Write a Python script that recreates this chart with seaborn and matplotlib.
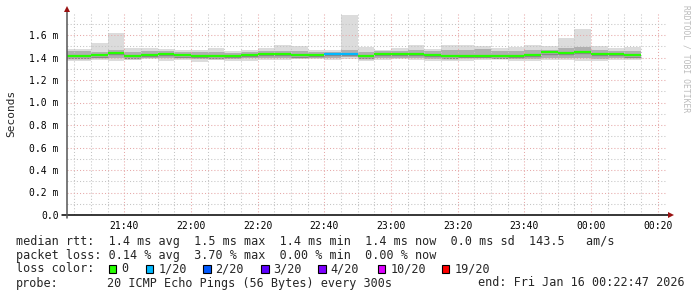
import matplotlib
matplotlib.use("Agg")
import matplotlib.pyplot as plt
import seaborn as sns
import pandas as pd
from matplotlib.patches import Rectangle

# ---------------- data ----------------
bin_start = ["21:20", "21:25", "21:30", "21:35", "21:40", "21:45", "21:50", "21:55",
             "22:00", "22:05", "22:10", "22:15", "22:20", "22:25", "22:30", "22:35",
             "22:40", "22:45", "22:50", "22:55", "23:00", "23:05", "23:10", "23:15",
             "23:20", "23:25", "23:30", "23:35", "23:40", "23:45", "23:50", "23:55",
             "00:00", "00:05", "00:10"]
# milliseconds
rtt_median = [1.41, 1.41, 1.42, 1.44, 1.41, 1.425, 1.43, 1.42, 1.415, 1.41, 1.415, 1.425,
              1.43, 1.43, 1.42, 1.425, 1.43, 1.43, 1.41, 1.43, 1.43, 1.435, 1.425, 1.41,
              1.415, 1.415, 1.41, 1.415, 1.425, 1.445, 1.44, 1.45, 1.435, 1.435, 1.42]
rtt_max = [1.48, 1.48, 1.53, 1.62, 1.48, 1.485, 1.48, 1.47, 1.465, 1.485, 1.455, 1.465,
           1.48, 1.51, 1.50, 1.465, 1.465, 1.78, 1.495, 1.47, 1.485, 1.51, 1.48, 1.51,
           1.51, 1.50, 1.485, 1.49, 1.51, 1.50, 1.575, 1.65, 1.50, 1.485, 1.49]
rtt_min = [1.37, 1.37, 1.38, 1.37, 1.38, 1.385, 1.37, 1.38, 1.36, 1.38, 1.37, 1.37,
           1.38, 1.38, 1.385, 1.385, 1.38, 1.39, 1.365, 1.375, 1.385, 1.38, 1.365, 1.37,
           1.37, 1.375, 1.385, 1.365, 1.37, 1.38, 1.38, 1.37, 1.37, 1.375, 1.38]
rtt_hi = [1.455, 1.455, 1.45, 1.47, 1.45, 1.455, 1.455, 1.45, 1.445, 1.445, 1.44, 1.445,
          1.455, 1.46, 1.455, 1.45, 1.45, 1.465, 1.45, 1.46, 1.455, 1.47, 1.455, 1.465,
          1.465, 1.475, 1.455, 1.455, 1.465, 1.47, 1.48, 1.49, 1.465, 1.46, 1.455]
rtt_lo = [1.39, 1.39, 1.40, 1.40, 1.395, 1.40, 1.395, 1.40, 1.39, 1.395, 1.39, 1.395,
          1.40, 1.40, 1.40, 1.40, 1.40, 1.405, 1.385, 1.395, 1.40, 1.395, 1.385, 1.395,
          1.395, 1.395, 1.40, 1.385, 1.39, 1.40, 1.40, 1.395, 1.39, 1.395, 1.40]
loss = [0, 0, 0, 0, 0, 0, 0, 0, 0, 0, 0, 0, 0, 0, 0, 0, 1, 1, 0, 0, 0, 0, 0, 0,
        0, 0, 0, 0, 0, 0, 0, 0, 0, 0, 0]

x_tick_labels = ["21:40", "22:00", "22:20", "22:40", "23:00", "23:20", "23:40", "00:00", "00:20"]
y_tick_values = [0.0, 0.2, 0.4, 0.6, 0.8, 1.0, 1.2, 1.4, 1.6]
y_tick_labels = ["0.0", "0.2 m", "0.4 m", "0.6 m", "0.8 m", "1.0 m", "1.2 m", "1.4 m", "1.6 m"]

loss_labels = ["0", "1/20", "2/20", "3/20", "4/20", "10/20", "19/20"]
loss_colors = ["#26ff00", "#00b8ff", "#0059ff", "#5e00ff", "#7e00ff", "#dd00ff", "#ff0000"]
loss_steps = [0, 1, 2, 3, 4, 10, 19]

line_median = "median rtt:  1.4 ms avg  1.5 ms max  1.4 ms min  1.4 ms now  0.0 ms sd  143.5   am/s"
line_loss = "packet loss: 0.14 % avg  3.70 % max  0.00 % min  0.00 % now"
probe_text = "20 ICMP Echo Pings (56 Bytes) every 300s"
end_text = "end: Fri Jan 16 00:22:47 2026"


def to_min(s):
    h, m = map(int, s.split(":"))
    if h < 12:
        h += 24
    return (h - 21) * 60 + m


df = pd.DataFrame({"t": [to_min(s) for s in bin_start], "median": rtt_median,
                   "mx": rtt_max, "mn": rtt_min, "hi": rtt_hi, "lo": rtt_lo, "loss": loss})

# ---------------- figure ----------------
sns.set_theme(style="white")
plt.rcParams["font.family"] = ["DejaVu Sans Mono", "DejaVu Sans"]

W, H = 697, 297
fig = plt.figure(figsize=(W / 100, H / 100), dpi=100)


def fx(px):
    return px / W


def fy(py):
    return 1 - py / H


ax_left, ax_right, ax_top, ax_bottom = 67, 667, 12.5, 215
ax = fig.add_axes([fx(ax_left), fy(ax_bottom), (ax_right - ax_left) / W, (ax_bottom - ax_top) / H])
ax.set_facecolor("white")

x0 = to_min("00:22") + 47 / 60 - 180
x1 = to_min("00:22") + 47 / 60
ax.set_xlim(x0, x1)
ax.set_ylim(0, 1.8)

binw = 5
ax.bar(df["t"], df["mx"] - df["mn"], bottom=df["mn"], width=binw, align="edge",
       color="#dcdcdc", linewidth=0, zorder=1)
ax.bar(df["t"], df["hi"] - df["lo"], bottom=df["lo"], width=binw, align="edge",
       color="#b0b0b0", linewidth=0, zorder=1.2)
color_map = dict(zip(loss_steps, loss_colors))
for _, r in df.iterrows():
    ax.hlines(r["median"], r["t"], r["t"] + binw, colors=color_map[int(r["loss"])],
              linewidth=1.6, zorder=3)
    ax.hlines(r["median"] - 0.012, r["t"], r["t"] + binw, colors="#888888",
              linewidth=1.0, zorder=1.5)

# ticks
major_x = [to_min(s) for s in x_tick_labels]
ax.set_xticks(major_x)
ax.set_xticklabels(x_tick_labels)
ax.set_xticks([m for m in range(25, 205, 5) if m not in major_x], minor=True)
ax.set_yticks(y_tick_values)
ax.set_yticklabels(y_tick_labels)
ax.set_yticks([0.1, 0.3, 0.5, 0.7, 0.9, 1.1, 1.3, 1.5, 1.7], minor=True)
ax.tick_params(axis="both", which="both", length=0, labelsize=7, colors="#000000")
ax.tick_params(axis="y", pad=6)
ax.tick_params(axis="x", pad=4)

ax.set_axisbelow(False)
ax.grid(which="major", color="#e6a8a8", linestyle=(0, (1, 2)), linewidth=0.75)
ax.grid(which="minor", color="#c4c4c4", linestyle=(0, (1, 2)), linewidth=0.75)

for s in ax.spines.values():
    s.set_visible(False)

# axes lines and arrows
fig.add_artist(plt.Line2D([fx(62), fx(670)], [fy(215), fy(215)], color="#000000", lw=1.1))
fig.add_artist(plt.Line2D([fx(67), fx(67)], [fy(218), fy(9)], color="#555555", lw=1.1))
fig.add_artist(plt.Line2D([fx(671)], [fy(215)], marker=">", color="#991111", markersize=4, mew=0))
fig.add_artist(plt.Line2D([fx(67)], [fy(9)], marker="^", color="#991111", markersize=4, mew=0))

fig.text(fx(11), fy(113.5), "Seconds", rotation=90, ha="center", va="center", fontsize=8)
fig.text(fx(686), fy(5), "RRDTOOL / TOBI OETIKER", rotation=270, ha="center", va="top",
         fontsize=5.8, color="#bbbbbb")

fs = 8.5
fig.text(fx(16), fy(241), line_median, ha="left", va="center", fontsize=fs)
fig.text(fx(16), fy(255), line_loss, ha="left", va="center", fontsize=fs)
fig.text(fx(16), fy(269), "loss color:", ha="left", va="center", fontsize=fs)
sq_x = [108.7, 145.7, 203, 261, 318, 377.7, 441.7]
for sx, lab, col in zip(sq_x, loss_labels, loss_colors):
    fig.add_artist(Rectangle((fx(sx), fy(272.5)), 7.5 / W, 7.5 / H, facecolor=col,
                             edgecolor="black", linewidth=0.8, transform=fig.transFigure))
    fig.text(fx(sx + 12.5), fy(269), lab, ha="left", va="center", fontsize=fs)
fig.text(fx(16), fy(283), "probe:", ha="left", va="center", fontsize=fs)
fig.text(fx(107), fy(283), probe_text, ha="left", va="center", fontsize=fs)
fig.text(fx(478), fy(283), end_text, ha="left", va="center", fontsize=fs)

fig.savefig("out.png", dpi=100, facecolor="white")
